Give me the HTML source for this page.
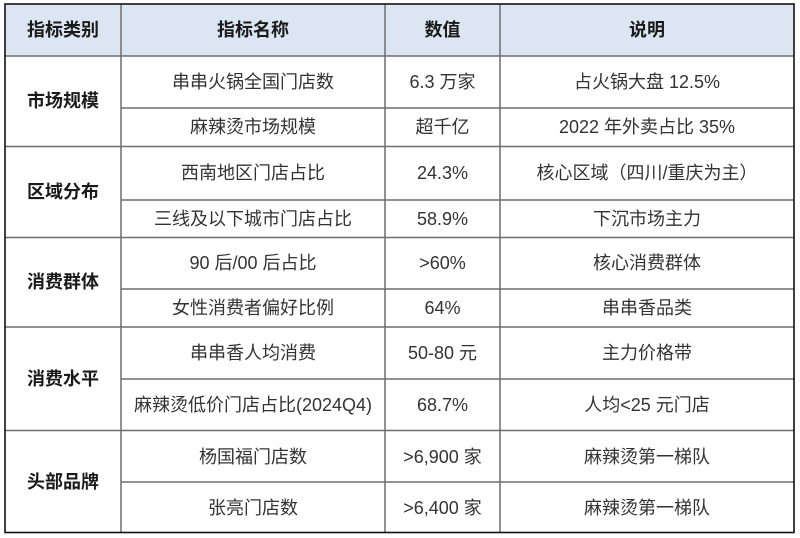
<!DOCTYPE html>
<html><head><meta charset="utf-8">
<style>
html,body{margin:0;padding:0;background:#fff;}
#c{position:relative;width:800px;height:538px;overflow:hidden;background:#fff;
font-family:"Liberation Sans","Noto Sans CJK SC",sans-serif;}
svg{position:absolute;left:0;top:0;}
.t{position:absolute;display:flex;align-items:center;justify-content:center;
font-size:18px;color:#333;white-space:nowrap;line-height:1;}
.b{font-weight:bold;color:#1a1a1a;}
</style></head><body>
<div id="c">
<svg width="800" height="538">
<rect x="5" y="4" width="789" height="52" fill="#dce6f2"/>
<g stroke="#6e6e6e" stroke-width="1.5" fill="none">
<line x1="121" y1="4" x2="121" y2="533"/>
<line x1="385" y1="4" x2="385" y2="533"/>
<line x1="500" y1="4" x2="500" y2="533"/>
<line x1="5" y1="56" x2="794" y2="56"/>
<line x1="121" y1="108" x2="794" y2="108"/>
<line x1="5" y1="146.5" x2="794" y2="146.5"/>
<line x1="121" y1="200" x2="794" y2="200"/>
<line x1="5" y1="237.5" x2="794" y2="237.5"/>
<line x1="121" y1="289" x2="794" y2="289"/>
<line x1="5" y1="327" x2="794" y2="327"/>
<line x1="121" y1="379" x2="794" y2="379"/>
<line x1="5" y1="430.5" x2="794" y2="430.5"/>
<line x1="121" y1="482" x2="794" y2="482"/>
</g>
<rect x="5" y="4" width="789" height="528.5" fill="none" stroke="#111" stroke-width="1.6"/>
</svg>

<!-- header -->
<div class="t b" style="left:5px;top:4px;width:116px;height:52px;">指标类别</div>
<div class="t b" style="left:121px;top:4px;width:264px;height:52px;">指标名称</div>
<div class="t b" style="left:385px;top:4px;width:115px;height:52px;">数值</div>
<div class="t b" style="left:500px;top:4px;width:294px;height:52px;">说明</div>

<!-- category column -->
<div class="t b" style="left:5px;top:56px;width:116px;height:90px;">市场规模</div>
<div class="t b" style="left:5px;top:146px;width:116px;height:91px;">区域分布</div>
<div class="t b" style="left:5px;top:237px;width:116px;height:90px;">消费群体</div>
<div class="t b" style="left:5px;top:327px;width:116px;height:104px;">消费水平</div>
<div class="t b" style="left:5px;top:431px;width:116px;height:102px;">头部品牌</div>

<!-- rows -->
<div class="t" style="left:121px;top:56px;width:264px;height:52px;">串串火锅全国门店数</div>
<div class="t" style="left:385px;top:56px;width:115px;height:52px;">6.3 万家</div>
<div class="t" style="left:500px;top:56px;width:294px;height:52px;">占火锅大盘 12.5%</div>

<div class="t" style="left:121px;top:108px;width:264px;height:38px;">麻辣烫市场规模</div>
<div class="t" style="left:385px;top:108px;width:115px;height:38px;">超千亿</div>
<div class="t" style="left:500px;top:108px;width:294px;height:38px;">2022 年外卖占比 35%</div>

<div class="t" style="left:121px;top:146px;width:264px;height:54px;">西南地区门店占比</div>
<div class="t" style="left:385px;top:146px;width:115px;height:54px;">24.3%</div>
<div class="t" style="left:500px;top:146px;width:294px;height:54px;">核心区域（四川/重庆为主）</div>

<div class="t" style="left:121px;top:200px;width:264px;height:37px;">三线及以下城市门店占比</div>
<div class="t" style="left:385px;top:200px;width:115px;height:37px;">58.9%</div>
<div class="t" style="left:500px;top:200px;width:294px;height:37px;">下沉市场主力</div>

<div class="t" style="left:121px;top:237px;width:264px;height:52px;">90 后/00 后占比</div>
<div class="t" style="left:385px;top:237px;width:115px;height:52px;">&gt;60%</div>
<div class="t" style="left:500px;top:237px;width:294px;height:52px;">核心消费群体</div>

<div class="t" style="left:121px;top:289px;width:264px;height:38px;">女性消费者偏好比例</div>
<div class="t" style="left:385px;top:289px;width:115px;height:38px;">64%</div>
<div class="t" style="left:500px;top:289px;width:294px;height:38px;">串串香品类</div>

<div class="t" style="left:121px;top:327px;width:264px;height:52px;">串串香人均消费</div>
<div class="t" style="left:385px;top:327px;width:115px;height:52px;">50-80 元</div>
<div class="t" style="left:500px;top:327px;width:294px;height:52px;">主力价格带</div>

<div class="t" style="left:121px;top:379px;width:264px;height:52px;">麻辣烫低价门店占比(2024Q4)</div>
<div class="t" style="left:385px;top:379px;width:115px;height:52px;">68.7%</div>
<div class="t" style="left:500px;top:379px;width:294px;height:52px;">人均&lt;25 元门店</div>

<div class="t" style="left:121px;top:431px;width:264px;height:51px;">杨国福门店数</div>
<div class="t" style="left:385px;top:431px;width:115px;height:51px;">&gt;6,900 家</div>
<div class="t" style="left:500px;top:431px;width:294px;height:51px;">麻辣烫第一梯队</div>

<div class="t" style="left:121px;top:482px;width:264px;height:51px;">张亮门店数</div>
<div class="t" style="left:385px;top:482px;width:115px;height:51px;">&gt;6,400 家</div>
<div class="t" style="left:500px;top:482px;width:294px;height:51px;">麻辣烫第一梯队</div>
</div>
</body></html>
